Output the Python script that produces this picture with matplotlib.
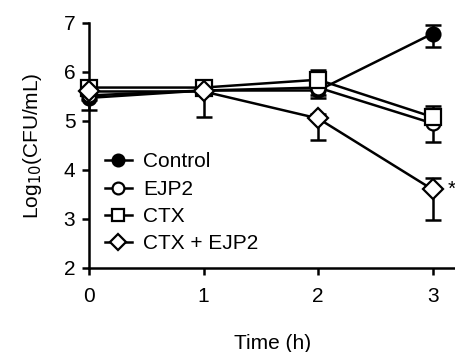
import numpy as np
import matplotlib.pyplot as plt

plt.rcParams['font.family'] = ['Liberation Sans', 'DejaVu Sans']

# time points (h)
time = [0, 1, 2, 3]

# log10 CFU/mL means and error bars (lower, upper)
control = [5.47, 5.62, 5.62, 6.78]
control_lo = [0.25, 0.05, 0.1, 0.27]
control_hi = [0.05, 0.05, 0.05, 0.18]
ejp2 = [5.52, 5.62, 5.68, 4.95]
ejp2_lo = [0.1, 0.05, 0.22, 0.38]
ejp2_hi = [0.05, 0.05, 0.05, 0.1]
ctx = [5.68, 5.68, 5.84, 5.08]
ctx_lo = [0.05, 0.05, 0.1, 0.1]
ctx_hi = [0.05, 0.05, 0.2, 0.22]
ctx_ejp2 = [5.6, 5.6, 5.05, 3.6]
ctx_ejp2_lo = [0.08, 0.53, 0.45, 0.62]
ctx_ejp2_hi = [0.05, 0.05, 0.1, 0.24]

labels = ['Control', 'EJP2', 'CTX', 'CTX + EJP2']
markers = ['o', 'o', 's', 'D']
faces = ['black', 'white', 'white', 'white']
sizes = [10, 10, 11, 10]

fig = plt.figure(figsize=(4.55, 3.52), dpi=100)
ax = fig.add_axes([0.196, 0.239, 0.805, 0.696])

series = [(control, control_lo, control_hi), (ejp2, ejp2_lo, ejp2_hi),
          (ctx, ctx_lo, ctx_hi), (ctx_ejp2, ctx_ejp2_lo, ctx_ejp2_hi)]
for (vals, lo, hi), lab, m, fc, ms in zip(series, labels, markers, faces, sizes):
    ax.errorbar(time, vals, yerr=[lo, hi], fmt='none', ecolor='black',
                elinewidth=1.8, capsize=6, capthick=1.8, clip_on=False, zorder=2)
    ax.plot(time, vals, label=lab, color='black', marker=m,
            markerfacecolor=fc, markeredgecolor='black', markersize=ms,
            markeredgewidth=1.6, linewidth=1.8, clip_on=False, zorder=3)

# significance mark
ax.text(3.135, ctx_ejp2[3], '*', fontsize=15, va='center', ha='left')

ax.set_xlim(0, 3.2)
ax.set_ylim(2, 7)
ax.set_xticks([0, 1, 2, 3])
ax.set_yticks([2, 3, 4, 5, 6, 7])
ax.spines['top'].set_visible(False)
ax.spines['right'].set_visible(False)
ax.spines['left'].set_linewidth(1.8)
ax.spines['bottom'].set_linewidth(1.8)
ax.tick_params(width=1.8, length=5, labelsize=15)
ax.tick_params(axis='x', pad=9)
ax.tick_params(axis='y', pad=5)
ax.set_xlabel('Time (h)', fontsize=15, labelpad=20)
ax.set_ylabel('Log$_{10}$(CFU/mL)', fontsize=15, labelpad=14)

leg = ax.legend(loc='upper left', bbox_to_anchor=(0.02, 0.505), frameon=False,
                fontsize=15, handlelength=1.3, handletextpad=0.55,
                labelspacing=0.4, borderaxespad=0, markerscale=0.85)

fig.savefig('out.png', dpi=100)
